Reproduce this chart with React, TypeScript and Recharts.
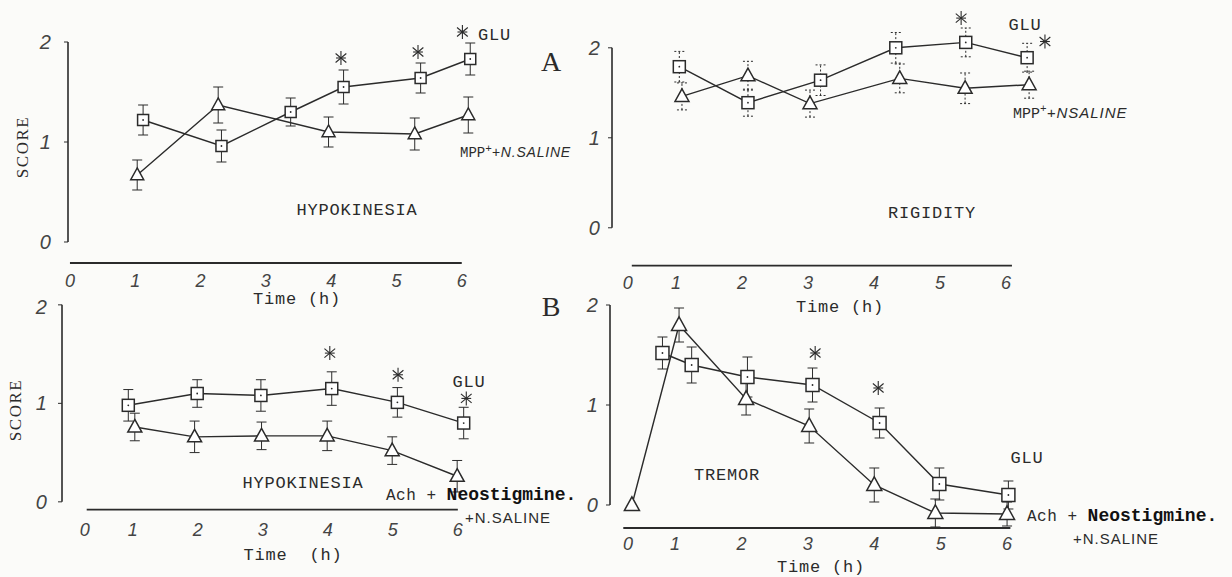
import React from "react";
import { LineChart, Line, XAxis, YAxis, ErrorBar, ReferenceLine, ReferenceDot } from "recharts";

// A, hypokinesia after MPP+ : GLU vs N.saline (t = hour as drawn, v = score, e = SEM)
const hypoMppGlu = [
  { t: 1.12, v: 1.22, e: 0.15 },
  { t: 2.32, v: 0.96, e: 0.16 },
  { t: 3.38, v: 1.3, e: 0.14 },
  { t: 4.19, v: 1.55, e: 0.17 },
  { t: 5.37, v: 1.64, e: 0.15 },
  { t: 6.13, v: 1.83, e: 0.16 },
];
const hypoMppSaline = [
  { t: 1.03, v: 0.67, e: 0.15 },
  { t: 2.27, v: 1.37, e: 0.18 },
  { t: 3.96, v: 1.1, e: 0.15 },
  { t: 5.28, v: 1.08, e: 0.16 },
  { t: 6.1, v: 1.27, e: 0.18 },
];
const hypoMppStars = [
  { t: 4.15, v: 1.84 },
  { t: 5.33, v: 1.9 },
  { t: 6.01, v: 2.1 },
];

// A, rigidity
const rigidityGlu = [
  { t: 1.05, v: 1.79, e: 0.17 },
  { t: 2.09, v: 1.39, e: 0.15 },
  { t: 3.19, v: 1.64, e: 0.17 },
  { t: 4.33, v: 2.0, e: 0.17 },
  { t: 5.39, v: 2.06, e: 0.16 },
  { t: 6.32, v: 1.89, e: 0.16 },
];
const rigiditySaline = [
  { t: 1.09, v: 1.46, e: 0.15 },
  { t: 2.09, v: 1.69, e: 0.16 },
  { t: 3.03, v: 1.38, e: 0.15 },
  { t: 4.39, v: 1.66, e: 0.16 },
  { t: 5.38, v: 1.55, e: 0.17 },
  { t: 6.35, v: 1.59, e: 0.15 },
];
const rigidityStars = [
  { t: 5.32, v: 2.33 },
  { t: 6.59, v: 2.07 },
];

// B, hypokinesia after Ach + neostigmine
const hypoAchGlu = [
  { t: 0.93, v: 0.98, e: 0.16 },
  { t: 1.99, v: 1.1, e: 0.14 },
  { t: 2.97, v: 1.08, e: 0.16 },
  { t: 4.06, v: 1.15, e: 0.17 },
  { t: 5.07, v: 1.01, e: 0.15 },
  { t: 6.09, v: 0.8, e: 0.16 },
];
const hypoAchSaline = [
  { t: 1.03, v: 0.76, e: 0.14 },
  { t: 1.95, v: 0.66, e: 0.16 },
  { t: 2.98, v: 0.67, e: 0.14 },
  { t: 3.99, v: 0.67, e: 0.15 },
  { t: 4.99, v: 0.52, e: 0.14 },
  { t: 5.99, v: 0.26, e: 0.16 },
];
const hypoAchStars = [
  { t: 4.03, v: 1.51 },
  { t: 5.08, v: 1.29 },
  { t: 6.13, v: 1.05 },
];

// B, tremor
const tremorGlu = [
  { t: 0.81, v: 1.52, e: 0.16 },
  { t: 1.25, v: 1.4, e: 0.18 },
  { t: 2.09, v: 1.28, e: 0.2 },
  { t: 3.07, v: 1.2, e: 0.17 },
  { t: 4.08, v: 0.82, e: 0.15 },
  { t: 4.98, v: 0.21, e: 0.16 },
  { t: 6.02, v: 0.1, e: 0.14 },
];
const tremorSaline = [
  { t: 0.35, v: 0.0, e: 0 },
  { t: 1.06, v: 1.8, e: 0.17 },
  { t: 2.07, v: 1.06, e: 0.16 },
  { t: 3.02, v: 0.79, e: 0.17 },
  { t: 4.0, v: 0.2, e: 0.17 },
  { t: 4.92, v: -0.08, e: 0.14 },
  { t: 6.0, v: -0.09, e: 0.12 },
];
const tremorStars = [
  { t: 3.11, v: 1.52 },
  { t: 4.06, v: 1.17 },
];

// hour tick positions as drawn on each panel (the "0" sits off the linear scale)
const hypoMppTicks = [0, 1, 2, 3, 4, 5, 6];
const rigidityTicks = [0.27, 1, 2, 3, 4, 5, 6];
const hypoAchTicks = [0.26, 1, 2, 3, 4, 5, 6];
const tremorTicks = [0.29, 1, 2, 3, 4, 5, 6];
const scoreTicks = [0, 1, 2];

const INK = "#2b2b2b";
const MONO = "'Liberation Mono', 'DejaVu Sans Mono', monospace";
const SERIF = "'Liberation Serif', 'DejaVu Serif', serif";
const HAND = "'Liberation Sans', 'DejaVu Sans', sans-serif";

type Pt = { t: number; v: number; e: number };
type Geo = {
  x0: number; xs: number; y0: number; ys: number;
  xmin: number; xmax: number; ymin: number; ymax: number;
  axisV: number; axisFrom: number; axisTo: number;
  yw: number; xh: number; tm: number; ym: number; box: number;
};

const squareDot = (size: number) => (p: any) => {
  const { cx, cy, index } = p;
  if (cx == null || cy == null) return <g key={`s${index}`} />;
  return (
    <g key={`s${index}`}>
      <rect x={cx - size / 2} y={cy - size / 2} width={size} height={size} fill="#fff" stroke={INK} strokeWidth={1.5} />
      <circle cx={cx} cy={cy} r={0.9} fill={INK} />
    </g>
  );
};

const triangleDot = (size: number) => (p: any) => {
  const { cx, cy, index } = p;
  if (cx == null || cy == null) return <g key={`t${index}`} />;
  const h = size * 0.9;
  return (
    <path
      key={`t${index}`}
      d={`M${cx},${cy - h * 0.6} L${cx + size / 2},${cy + h * 0.4} L${cx - size / 2},${cy + h * 0.4} Z`}
      fill="#fff"
      stroke={INK}
      strokeWidth={1.5}
    />
  );
};

const StarMark = (p: any) => {
  const { cx, cy } = p;
  if (cx == null || cy == null) return <g />;
  const r = 7;
  const arms = [90, 0, 40, -40];
  return (
    <g stroke={INK} strokeWidth={1.1}>
      {arms.map((a) => {
        const rad = (a * Math.PI) / 180;
        const dx = Math.cos(rad) * r * (a === 0 ? 0.7 : 1);
        const dy = Math.sin(rad) * r;
        return <line key={a} x1={cx - dx} y1={cy - dy} x2={cx + dx} y2={cy + dy} />;
      })}
    </g>
  );
};

function Panel({ g, glu, sal, stars, ticks, dashed }: { g: Geo; glu: Pt[]; sal: Pt[]; stars: { t: number; v: number }[]; ticks: number[]; dashed?: boolean }) {
  const plotW = (g.xmax - g.xmin) * g.xs;
  const plotH = (g.ymax - g.ymin) * g.ys;
  const left = g.x0 + g.xs * g.xmin - g.yw;
  const top = g.y0 - g.ys * g.ymax;
  const errStroke = dashed ? "2 2" : undefined;
  return (
    <div style={{ position: "absolute", left, top }}>
      <LineChart width={g.yw + plotW} height={plotH + g.xh} margin={{ top: 0, right: 0, bottom: 0, left: 0 }}>
        <XAxis
          dataKey="t"
          type="number"
          domain={[g.xmin, g.xmax]}
          allowDataOverflow
          ticks={ticks}
          interval={0}
          tickFormatter={(t: number) => String(Math.round(t))}
          axisLine={false}
          tickLine={false}
          tickSize={0}
          tickMargin={g.tm}
          height={g.xh}
          tick={{ fill: "#444", fontSize: 18, fontStyle: "italic", fontFamily: HAND }}
        />
        <YAxis
          type="number"
          domain={[g.ymin, g.ymax]}
          allowDataOverflow
          ticks={scoreTicks}
          width={g.yw}
          axisLine={false}
          tickSize={4}
          tickMargin={g.ym}
          tickLine={{ stroke: INK }}
          tick={{ fill: "#444", fontSize: 20, fontStyle: "italic", fontFamily: HAND }}
        />
        <ReferenceLine segment={[{ x: g.xmin, y: 0 }, { x: g.xmin, y: 2 }]} stroke={INK} strokeWidth={1.6} ifOverflow="visible" />
        <ReferenceLine segment={[{ x: g.axisFrom, y: g.axisV }, { x: g.axisTo, y: g.axisV }]} stroke={INK} strokeWidth={1.8} ifOverflow="visible" />
        <Line data={sal} dataKey="v" stroke={INK} strokeWidth={1.4} isAnimationActive={false} dot={triangleDot(g.box + 2)} activeDot={false}>
          <ErrorBar dataKey="e" width={5} stroke={INK} strokeWidth={1} strokeDasharray={errStroke} direction="y" />
        </Line>
        <Line data={glu} dataKey="v" stroke={INK} strokeWidth={1.4} isAnimationActive={false} dot={squareDot(g.box)} activeDot={false}>
          <ErrorBar dataKey="e" width={5} stroke={INK} strokeWidth={1} strokeDasharray={errStroke} direction="y" />
        </Line>
        {stars.map((s, i) => (
          <ReferenceDot key={i} x={s.t} y={s.v} r={0} shape={StarMark} ifOverflow="visible" />
        ))}
      </LineChart>
    </div>
  );
}

function Note({ x, y, children, style, anchor = "middle" }: { x: number; y: number; children: React.ReactNode; style?: React.CSSProperties; anchor?: "start" | "middle" }) {
  return (
    <div
      style={{
        position: "absolute",
        left: x,
        top: y,
        transform: anchor === "middle" ? "translate(-50%, -50%)" : "translate(0, -50%)",
        whiteSpace: "pre",
        color: INK,
        lineHeight: 1,
        ...style,
      }}
    >
      {children}
    </div>
  );
}

const typed: React.CSSProperties = { fontFamily: MONO, fontSize: 17, letterSpacing: 0.8 };
const hand: React.CSSProperties = { fontFamily: HAND, fontSize: 15, letterSpacing: 1 };
const scoreLabel: React.CSSProperties = { fontFamily: SERIF, fontSize: 17, letterSpacing: 1.5, transform: "translate(-50%, -50%) rotate(-90deg)" };

const geoHypoMpp: Geo = { x0: 70, xs: 65.3, y0: 242, ys: 100, xmin: -0.03, xmax: 6.4, ymin: -0.23, ymax: 2.35, axisV: -0.21, axisFrom: 0, axisTo: 6.0, yw: 40, xh: 30, tm: 9, ym: 13, box: 11 };
const geoRigidity: Geo = { x0: 610, xs: 66, y0: 228, ys: 90, xmin: 0.03, xmax: 6.75, ymin: -0.44, ymax: 2.52, axisV: -0.42, axisFrom: 0.33, axisTo: 6.09, yw: 40, xh: 30, tm: 9, ym: 8, box: 12 };
const geoHypoAch: Geo = { x0: 68, xs: 65, y0: 502, ys: 98.5, xmin: -0.09, xmax: 6.5, ymin: -0.1, ymax: 2.1, axisV: -0.08, axisFrom: 0.29, axisTo: 6.0, yw: 40, xh: 30, tm: 12, ym: 11, box: 12 };
const geoTremor: Geo = { x0: 608.6, xs: 66.4, y0: 505, ys: 100, xmin: 0.02, xmax: 6.3, ymin: -0.25, ymax: 2.15, axisV: -0.23, axisFrom: 0.22, axisTo: 6.05, yw: 40, xh: 30, tm: 7, ym: 8, box: 13 };

export default function App() {
  return (
    <div style={{ position: "absolute", left: 0, top: 0, width: 1232, height: 577, overflow: "hidden", background: "#fbfbf9" }}>
      <Panel g={geoHypoMpp} glu={hypoMppGlu} sal={hypoMppSaline} stars={hypoMppStars} ticks={hypoMppTicks} />
      <Panel g={geoRigidity} glu={rigidityGlu} sal={rigiditySaline} stars={rigidityStars} ticks={rigidityTicks} dashed />
      <Panel g={geoHypoAch} glu={hypoAchGlu} sal={hypoAchSaline} stars={hypoAchStars} ticks={hypoAchTicks} />
      <Panel g={geoTremor} glu={tremorGlu} sal={tremorSaline} stars={tremorStars} ticks={tremorTicks} />

      {/* panel A, hypokinesia */}
      <Note x={22} y={147} style={scoreLabel}>SCORE</Note>
      <Note x={357} y={210} style={typed}>HYPOKINESIA</Note>
      <Note x={478} y={35} anchor="start" style={typed}>GLU</Note>
      <Note x={551} y={62} style={{ fontFamily: SERIF, fontSize: 28 }}>A</Note>
      <Note x={460} y={152} anchor="start" style={{ fontFamily: MONO, fontSize: 14 }}>
        MPP<sup style={{ fontSize: 11 }}>+</sup>
        <span style={{ ...hand, fontStyle: "italic", fontSize: 14, letterSpacing: 0.8 }}>+N.SALINE</span>
      </Note>
      <Note x={297} y={299} style={typed}>Time (h)</Note>

      {/* panel A, rigidity */}
      <Note x={1025} y={25} style={typed}>GLU</Note>
      <Note x={1013} y={113} anchor="start" style={{ fontFamily: MONO, fontSize: 15 }}>
        MPP<sup style={{ fontSize: 11 }}>+</sup>
        <span style={{ ...hand, fontStyle: "italic", fontSize: 15, letterSpacing: 1 }}>+NSALINE</span>
      </Note>
      <Note x={932} y={213} style={typed}>RIGIDITY</Note>
      <Note x={840} y={307} style={typed}>Time (h)</Note>

      {/* panel B, hypokinesia */}
      <Note x={15} y={410} style={scoreLabel}>SCORE</Note>
      <Note x={303} y={483} style={typed}>HYPOKINESIA</Note>
      <Note x={469} y={382} style={typed}>GLU</Note>
      <Note x={551} y={307} style={{ fontFamily: SERIF, fontSize: 28 }}>B</Note>
      <Note x={386} y={495} anchor="start" style={{ fontFamily: MONO, fontSize: 16, letterSpacing: 0.5 }}>
        {"Ach + "}
        <span style={{ fontWeight: 700, fontSize: 18, letterSpacing: 0, color: "#111" }}>Neostigmine.</span>
      </Note>
      <Note x={465} y={517} anchor="start" style={hand}>+N.SALINE</Note>
      <Note x={293} y={555} style={typed}>{"Time  (h)"}</Note>

      {/* panel B, tremor */}
      <Note x={727} y={475} style={typed}>TREMOR</Note>
      <Note x={1027} y={458} style={typed}>GLU</Note>
      <Note x={1027} y={516} anchor="start" style={{ fontFamily: MONO, fontSize: 16, letterSpacing: 0.5 }}>
        {"Ach + "}
        <span style={{ fontWeight: 700, fontSize: 18, letterSpacing: 0, color: "#111" }}>Neostigmine.</span>
      </Note>
      <Note x={1073} y={538} anchor="start" style={hand}>+N.SALINE</Note>
      <Note x={821} y={567} style={typed}>Time (h)</Note>
    </div>
  );
}
